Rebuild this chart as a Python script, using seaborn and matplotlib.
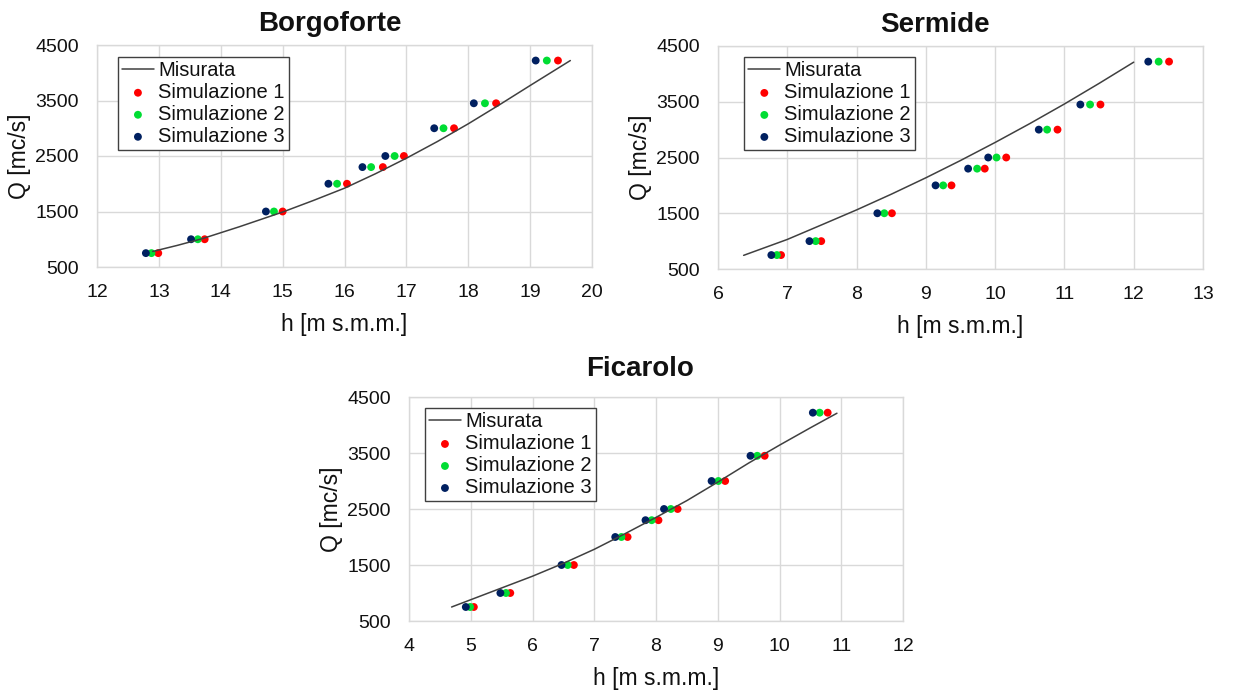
import numpy as np
import pandas as pd
import seaborn as sns
import matplotlib.pyplot as plt

# portate (mc/s) comuni alle tre stazioni
q_sim = [750, 1000, 1500, 2000, 2300, 2500, 3000, 3450, 4220]

# Borgoforte
borg_h_mis = [12.9, 13.3, 13.7, 14.3, 15.0, 15.5, 16.0, 16.5, 17.0, 17.5, 18.0, 18.5, 19.0, 19.65]
borg_q_mis = [780, 890, 1010, 1225, 1490, 1700, 1920, 2180, 2460, 2760, 3080, 3420, 3770, 4220]
borg_sim1 = [12.99, 13.74, 15.00, 16.04, 16.62, 16.96, 17.77, 18.45, 19.45]
borg_sim2 = [12.88, 13.63, 14.86, 15.88, 16.43, 16.81, 17.60, 18.27, 19.27]
borg_sim3 = [12.79, 13.52, 14.73, 15.74, 16.29, 16.66, 17.45, 18.09, 19.09]

# Sermide
serm_h_mis = [6.37, 7.0, 7.5, 8.0, 8.5, 9.0, 9.5, 10.0, 10.5, 11.0, 11.5, 12.0]
serm_q_mis = [745, 1030, 1294, 1560, 1841, 2136, 2446, 2770, 3108, 3460, 3829, 4210]
serm_sim1 = [6.91, 7.49, 8.51, 9.37, 9.85, 10.16, 10.90, 11.52, 12.51]
serm_sim2 = [6.85, 7.41, 8.40, 9.25, 9.74, 10.02, 10.75, 11.37, 12.36]
serm_sim3 = [6.77, 7.32, 8.30, 9.14, 9.61, 9.90, 10.63, 11.23, 12.21]

# Ficarolo
fic_h_mis = [4.69, 5.0, 5.5, 6.0, 6.5, 7.0, 7.5, 8.0, 8.5, 9.0, 9.5, 10.0, 10.5, 10.93]
fic_q_mis = [750, 880, 1090, 1300, 1530, 1780, 2060, 2350, 2650, 2980, 3320, 3640, 3950, 4210]
fic_sim1 = [5.05, 5.64, 6.67, 7.54, 8.04, 8.35, 9.12, 9.76, 10.78]
fic_sim2 = [4.99, 5.57, 6.57, 7.44, 7.93, 8.24, 9.01, 9.64, 10.65]
fic_sim3 = [4.92, 5.48, 6.47, 7.34, 7.83, 8.13, 8.90, 9.53, 10.54]

sns.set_theme(style="whitegrid")
plt.rcParams['font.family'] = ['Liberation Sans', 'DejaVu Sans']

colori = {"Simulazione 1": "#ff0000", "Simulazione 2": "#00dd33", "Simulazione 3": "#002060"}

fig = plt.figure(figsize=(12.41, 6.9), dpi=100)
W, H = 1241, 690


def pannello(box, titolo, tx, tpad, h_mis, q_mis, sims, xlim, xticks, leg_xy):
    l, t, r, b = box
    ax = fig.add_axes([l / W, 1 - b / H, (r - l) / W, (b - t) / H])
    sns.lineplot(x=h_mis, y=q_mis, ax=ax, color="#404040", linewidth=1.1, label="Misurata")
    for nome, h in sims.items():
        sns.scatterplot(x=h, y=q_sim, ax=ax, color=colori[nome], s=32,
                        edgecolor="none", label=nome)
    ax.set_xlim(*xlim)
    ax.set_ylim(500, 4500)
    ax.set_xticks(xticks)
    ax.set_yticks([500, 1500, 2500, 3500, 4500])
    ax.grid(True, color="#d9d9d9", linewidth=1)
    for s in ax.spines.values():
        s.set_color("#d9d9d9")
        s.set_linewidth(1)
    ax.tick_params(axis="x", labelsize=14, pad=12, length=0, colors="#111111")
    ax.tick_params(axis="y", labelsize=14, pad=13, length=0, colors="#111111")
    ax.set_xlabel("h [m s.m.m.]", fontsize=16.5, color="#111111")
    ax.set_ylabel("Q [mc/s]", fontsize=16.5, color="#111111")
    ax.xaxis.set_label_coords(0.5, -46 / (b - t))
    ax.yaxis.set_label_coords(-66 / (r - l), 0.5)
    ax.set_title(titolo, fontsize=20, fontweight="bold", x=tx, pad=tpad, color="#111111")
    leg = ax.legend(loc="upper left", bbox_to_anchor=leg_xy, borderaxespad=0,
                    fontsize=14.5, frameon=True, fancybox=False, edgecolor="#404040",
                    framealpha=1, labelspacing=0.15, borderpad=0.2,
                    handletextpad=0.2, handlelength=1.6, markerscale=1.0)
    leg.get_frame().set_linewidth(1)
    for testo in leg.get_texts():
        testo.set_color("#111111")
    return ax


pannello((97, 45, 592, 267), "Borgoforte", 0.47, 10, borg_h_mis, borg_q_mis,
         {"Simulazione 1": borg_sim1, "Simulazione 2": borg_sim2, "Simulazione 3": borg_sim3},
         (12, 20), range(12, 21), (0.042, 0.946))
pannello((718, 46, 1203, 269), "Sermide", 0.447, 10, serm_h_mis, serm_q_mis,
         {"Simulazione 1": serm_sim1, "Simulazione 2": serm_sim2, "Simulazione 3": serm_sim3},
         (6, 13), range(6, 14), (0.054, 0.95))
pannello((409, 397, 903, 621), "Ficarolo", 0.468, 15, fic_h_mis, fic_q_mis,
         {"Simulazione 1": fic_sim1, "Simulazione 2": fic_sim2, "Simulazione 3": fic_sim3},
         (4, 12), range(4, 13), (0.032, 0.95))

fig.savefig("out.png", dpi=100)
